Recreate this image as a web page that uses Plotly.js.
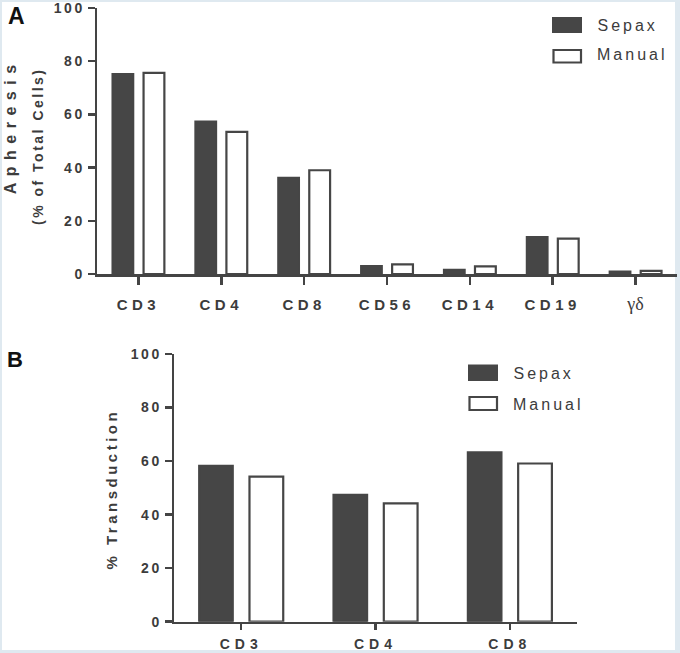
<!DOCTYPE html>
<html>
<head>
<meta charset="utf-8">
<script src="https://cdn.plot.ly/plotly-3.0.1.min.js"></script>
<style>
  html, body { margin: 0; padding: 0; background: #dfe9f0; }
  #chart { width: 680px; height: 653px; }
  .xtick text { letter-spacing: 4.5px; }
  .x2tick text { letter-spacing: 5px; }
  .ytick text, .y2tick text { letter-spacing: 2.5px; }
  .annotation[data-index="0"] text { letter-spacing: 6.5px; }
  .annotation[data-index="1"] text { letter-spacing: 2.5px; }
  .annotation[data-index="2"] text { letter-spacing: 3.5px; }
  .annotation[data-index="3"] text,
  .annotation[data-index="4"] text,
  .annotation[data-index="5"] text,
  .annotation[data-index="6"] text { letter-spacing: 3px; }
</style>
</head>
<body>
<div id="chart"></div>
<script>
// ---- Data ----
const categoriesA = ["CD3", "CD4", "CD8", "CD56", "CD14", "CD19", "γδ"];
const sepaxA  = [75.2, 57.3, 36.2, 3.0, 1.6, 13.9, 0.9];
const manualA = [75.6, 53.4, 39.0, 3.6, 2.9, 13.3, 1.2];

const categoriesB = ["CD3", "CD4", "CD8"];
const sepaxB  = [58.3, 47.4, 63.3];
const manualB = [54.2, 44.2, 59.1];

const seriesNames = ["Sepax", "Manual"];
const yTicks = [0, 20, 40, 60, 80, 100];

// ---- Styling ----
const W = 680, H = 653;
const px = v => v / W;
const py = v => 1 - v / H;
const DARK = "#464646";
const AX = "#444444";
const FONT = "Liberation Sans, Arial, Helvetica, sans-serif";

const sepaxStyle  = { color: DARK, line: { color: DARK, width: 2 } };
const manualStyle = { color: "#ffffff", line: { color: DARK, width: 2.2 } };

const traces = [
  { type: "bar", name: seriesNames[0], x: categoriesA, y: sepaxA,  marker: sepaxStyle,  xaxis: "x",  yaxis: "y",  hoverinfo: "x+y+name" },
  { type: "bar", name: seriesNames[1], x: categoriesA, y: manualA, marker: manualStyle, xaxis: "x",  yaxis: "y",  hoverinfo: "x+y+name" },
  { type: "bar", name: seriesNames[0], x: categoriesB, y: sepaxB,  marker: sepaxStyle,  xaxis: "x2", yaxis: "y2", hoverinfo: "x+y+name" },
  { type: "bar", name: seriesNames[1], x: categoriesB, y: manualB, marker: manualStyle, xaxis: "x2", yaxis: "y2", hoverinfo: "x+y+name" }
];

// Greek label drawn in a serif, non-bold face as in the reference
const tickLabel = c => /^[α-ω]+$/.test(c)
  ? '<span style="font-family:Liberation Serif, Times New Roman, serif;font-weight:normal;font-size:18px;letter-spacing:0px">' + c + '</span>'
  : c;

function xAxis(domain, anchor, size, len, standoff, cats) {
  return {
    domain: domain, anchor: anchor, type: "category",
    range: [-0.5, cats.length - 0.5],
    tickvals: cats, ticktext: cats.map(tickLabel),
    showline: true, linecolor: AX, linewidth: 2.5, layer: "above traces",
    ticks: "outside", ticklen: len, tickwidth: 2.5, tickcolor: AX,
    ticklabelstandoff: standoff, ticklabeloverflow: "allow",
    tickfont: { family: FONT, size: size, color: "#3c3c3c", weight: "bold" },
    showgrid: false, zeroline: false, fixedrange: true
  };
}
function yAxis(domain, anchor) {
  return {
    domain: domain, anchor: anchor, range: [0, 100],
    tickvals: yTicks, ticktext: yTicks.map(String),
    showline: true, linecolor: AX, linewidth: 2.5, layer: "above traces",
    ticks: "outside", ticklen: 7, tickwidth: 2.5, tickcolor: AX,
    ticklabeloverflow: "allow",
    tickfont: { family: FONT, size: 14, color: "#3c3c3c", weight: "bold" },
    showgrid: false, zeroline: false, fixedrange: true
  };
}

const xa = xAxis([px(97), px(677)], "y", 15, 8, 7, categoriesA);
const xb = xAxis([px(174), px(577)], "y2", 14, 6, 2, categoriesB);

const annFont = (size, weight) => ({ family: FONT, size: size, color: "#3c3c3c", weight: weight });

const annotations = [
  { text: "Apheresis", x: px(11), y: py(127), textangle: -90, font: annFont(16, "bold") },
  { text: "(% of Total Cells)", x: px(37.5), y: py(146), textangle: -90, font: annFont(14, "bold") },
  { text: "% Transduction", x: px(111), y: py(489), textangle: -90, font: annFont(15, "bold") },
  { text: seriesNames[0], x: px(603), y: py(26), xanchor: "left", font: annFont(16, "normal") },
  { text: seriesNames[1], x: px(604), y: py(55), xanchor: "left", font: annFont(16, "normal") },
  { text: seriesNames[0], x: px(519), y: py(373), xanchor: "left", font: annFont(16, "normal") },
  { text: seriesNames[1], x: px(520), y: py(404), xanchor: "left", font: annFont(16, "normal") },
  { text: "A", x: px(16), y: py(16), font: { family: FONT, size: 23, color: "#111111", weight: "bold" } },
  { text: "B", x: px(15), y: py(359.5), font: { family: FONT, size: 22, color: "#111111", weight: "bold" } }
].map(a => Object.assign({ xref: "paper", yref: "paper", showarrow: false, xanchor: "center", yanchor: "middle" }, a));

const rect = (x0, y0, x1, y1, fill, lw, layer) => ({
  type: "rect", xref: "paper", yref: "paper",
  x0: px(x0), x1: px(x1), y0: py(y1), y1: py(y0),
  fillcolor: fill, line: { color: DARK, width: lw }, layer: layer || "above"
});

const shapes = [
  // white panel inside the light blue frame
  { type: "rect", xref: "paper", yref: "paper", x0: px(2), x1: px(675), y0: py(650), y1: py(2),
    fillcolor: "#ffffff", line: { width: 0 }, layer: "below" },
  // legend A
  rect(552, 17, 582, 33, DARK, 0),
  rect(553.5, 50, 581, 62.5, "#ffffff", 2.2),
  // legend B
  rect(468, 364.5, 498, 381, DARK, 0),
  rect(469.5, 397, 497, 410, "#ffffff", 2.2)
];

const layout = {
  width: W, height: H,
  margin: { l: 0, r: 0, t: 0, b: 0, pad: 0 },
  paper_bgcolor: "#dfe9f0",
  plot_bgcolor: "rgba(0,0,0,0)",
  barmode: "group", bargap: 0.25, bargroupgap: 0.33,
  showlegend: false,
  xaxis: xa, yaxis: yAxis([py(274), py(8)], "x"),
  xaxis2: xb, yaxis2: yAxis([py(621.7), py(354)], "x2"),
  annotations: annotations,
  shapes: shapes
};

Plotly.newPlot("chart", traces, layout, { displayModeBar: false, staticPlot: true });
</script>
</body>
</html>
